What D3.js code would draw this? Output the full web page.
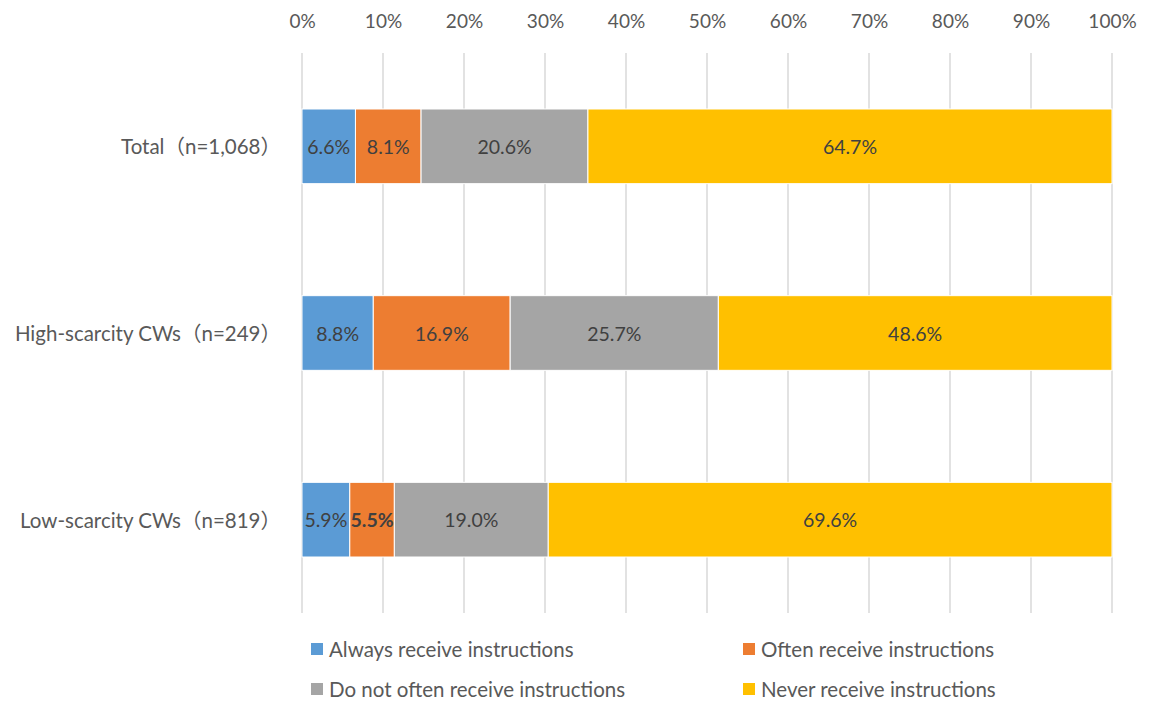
<!DOCTYPE html>
<html>
<head>
<meta charset="utf-8">
<script src="https://cdn.jsdelivr.net/npm/d3@7"></script>
<style>
  html, body { margin: 0; padding: 0; background: #fff; }
  svg text { font-family: Lato, "Noto Sans CJK SC", sans-serif; }
</style>
</head>
<body>
<svg id="chart" width="1163" height="703"></svg>
<script>
// Survey groups (top to bottom)
const categories = ["Total（n=1,068）", "High-scarcity CWs（n=249）", "Low-scarcity CWs（n=819）"];
// Response options (stack order, left to right)
const seriesNames = [
  "Always receive instructions",
  "Often receive instructions",
  "Do not often receive instructions",
  "Never receive instructions"
];
// Percent share per group for each response option
const alwaysValues   = [6.6, 8.8, 5.9];
const oftenValues    = [8.1, 16.9, 5.5];
const notOftenValues = [20.6, 25.7, 19.0];
const neverValues    = [64.7, 48.6, 69.6];
const tickValues = [0, 10, 20, 30, 40, 50, 60, 70, 80, 90, 100];
const colors = ["#5B9BD5", "#ED7D31", "#A5A5A5", "#FFC000"];

const seriesValues = [alwaysValues, oftenValues, notOftenValues, neverValues];
const rows = categories.map((c, i) => {
  const r = { category: c };
  seriesNames.forEach((s, j) => { r[s] = seriesValues[j][i]; });
  return r;
});
const stacked = d3.stack().keys(seriesNames)(rows);

const svg = d3.select("#chart");
const plotLeft = 302, plotRight = 1112, plotTop = 53, plotBottom = 613;

const x = d3.scaleLinear().domain([0, 100]).range([plotLeft, plotRight]);
const y = d3.scaleBand().domain(categories).range([plotTop, plotBottom])
  .paddingInner(0.6).paddingOuter(0.3);

// Vertical gridlines
svg.append("g").selectAll("line").data(tickValues).join("line")
  .attr("x1", d => x(d)).attr("x2", d => x(d))
  .attr("y1", plotTop).attr("y2", plotBottom)
  .attr("stroke", "#d9d9d9").attr("stroke-width", 1.5);

// Top axis tick labels
const axis = d3.axisTop(x).tickValues(tickValues).tickFormat(d => d + "%").tickSize(0).tickPadding(0);
const ag = svg.append("g").attr("transform", `translate(0, 28)`).call(axis);
ag.select(".domain").remove();
ag.selectAll("text").attr("fill", "#595959").attr("font-size", 19)
  .attr("font-family", "Lato, sans-serif");

// Stacked bars
const layers = svg.append("g").selectAll("g").data(stacked).join("g")
  .attr("fill", (d, i) => colors[i]);
layers.selectAll("rect").data(d => d).join("rect")
  .attr("x", d => x(d[0]))
  .attr("width", d => x(d[1]) - x(d[0]))
  .attr("y", d => y(d.data.category))
  .attr("height", y.bandwidth())
  .attr("stroke", "#fff").attr("stroke-width", 1);

// Data labels
stacked.forEach((layer, i) => {
  svg.append("g").selectAll("text").data(layer).join("text")
    .attr("x", d => (x(d[0]) + x(d[1])) / 2)
    .attr("y", d => y(d.data.category) + y.bandwidth() / 2)
    .attr("text-anchor", "middle")
    .attr("dominant-baseline", "central")
    .attr("font-size", 19.5)
    .attr("fill", "#404040")
    .attr("font-weight", d => (i === 1 && d.data.category === categories[2]) ? "bold" : "normal")
    .text(d => d3.format(".1f")(d[1] - d[0]) + "%");
});

// Category labels
svg.append("g").selectAll("text").data(categories).join("text")
  .attr("x", 281)
  .attr("y", d => y(d) + y.bandwidth() / 2)
  .attr("text-anchor", "end")
  .attr("dominant-baseline", "central")
  .attr("font-size", 20.5)
  .attr("fill", "#595959")
  .text(d => d);

// Legend (two columns, two rows)
const legendPos = [[311, 649], [743, 649], [311, 689], [743, 689]];
const lg = svg.append("g").selectAll("g").data(seriesNames).join("g")
  .attr("transform", (d, i) => `translate(${legendPos[i][0]}, ${legendPos[i][1]})`);
lg.append("rect").attr("x", 0).attr("y", -6).attr("width", 12).attr("height", 12)
  .attr("fill", (d, i) => colors[i]);
lg.append("text").attr("x", 18).attr("y", 0)
  .attr("dominant-baseline", "central")
  .attr("font-size", 20.5).attr("fill", "#595959")
  .text(d => d);
</script>
</body>
</html>
